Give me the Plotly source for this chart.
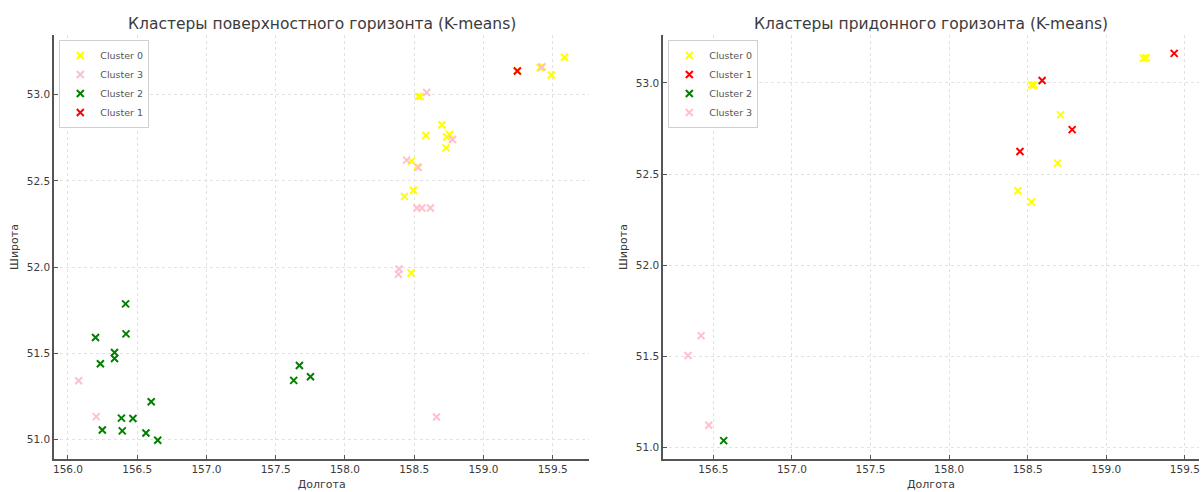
import plotly.graph_objects as go

# ---- Surface horizon (left panel) ----
surf_c0_lon = [158.530, 158.545, 158.700, 158.585, 158.755, 158.735, 158.730, 158.480,
               158.520, 158.495, 158.430, 159.410, 159.425, 159.490, 159.585, 158.477, 159.245]
surf_c0_lat = [52.990, 52.990, 52.826, 52.764, 52.770, 52.755, 52.692, 52.615,
               52.582, 52.446, 52.410, 53.157, 53.163, 53.115, 53.218, 51.966, 53.140]

surf_c3_lon = [158.590, 158.445, 158.530, 158.777, 159.420, 158.520, 158.555, 158.617,
               158.391, 158.386, 156.077, 156.204, 158.661]
surf_c3_lat = [53.013, 52.621, 52.579, 52.741, 53.160, 52.343, 52.343, 52.343,
               51.989, 51.958, 51.341, 51.133, 51.131]

surf_c2_lon = [156.416, 156.199, 156.419, 156.336, 156.336, 156.234, 157.671, 157.630,
               157.751, 156.601, 156.386, 156.469, 156.248, 156.392, 156.563, 156.648]
surf_c2_lat = [51.787, 51.592, 51.613, 51.505, 51.470, 51.440, 51.429, 51.343,
               51.364, 51.219, 51.124, 51.122, 51.055, 51.050, 51.038, 50.996]

surf_c1_lon = [159.245]
surf_c1_lat = [53.138]

# ---- Bottom horizon (right panel) ----
bot_c0_lon = [158.525, 158.540, 158.709, 158.690, 158.438, 158.524, 159.237, 159.254]
bot_c0_lat = [52.989, 52.989, 52.825, 52.560, 52.409, 52.347, 53.135, 53.138]

bot_c1_lon = [158.592, 158.783, 158.451, 159.432]
bot_c1_lat = [53.013, 52.744, 52.624, 53.162]

bot_c2_lon = [156.566]
bot_c2_lat = [51.038]

bot_c3_lon = [156.422, 156.339, 156.471]
bot_c3_lat = [51.614, 51.505, 51.122]

CLUSTER_COLORS = {"0": "yellow", "1": "red", "2": "green", "3": "pink"}
FONT = "DejaVu Sans"
TEXT = "#3b3b3b"

W, H = 1203, 492
ML, MR, MT, MB = 54.3, 3, 35, 29.7
plot_w = W - ML - MR

left_dom = [0, (590 - ML) / plot_w]
right_dom = [(663.7 - ML) / plot_w, 1]

fig = go.Figure()


def add_cluster(lon, lat, label, xa, ya, legend):
    fig.add_trace(go.Scatter(
        x=lon, y=lat, mode="markers", name=f"Cluster {label}",
        xaxis=xa, yaxis=ya, legend=legend,
        marker=dict(symbol="x-thin", size=7,
                    line=dict(width=2, color=CLUSTER_COLORS[label]),
                    color=CLUSTER_COLORS[label]),
    ))


# Left panel: order 0, 3, 2, 1
add_cluster(surf_c0_lon, surf_c0_lat, "0", "x", "y", "legend")
add_cluster(surf_c3_lon, surf_c3_lat, "3", "x", "y", "legend")
add_cluster(surf_c2_lon, surf_c2_lat, "2", "x", "y", "legend")
add_cluster(surf_c1_lon, surf_c1_lat, "1", "x", "y", "legend")

# Right panel: order 0, 1, 2, 3
add_cluster(bot_c0_lon, bot_c0_lat, "0", "x2", "y2", "legend2")
add_cluster(bot_c1_lon, bot_c1_lat, "1", "x2", "y2", "legend2")
add_cluster(bot_c2_lon, bot_c2_lat, "2", "x2", "y2", "legend2")
add_cluster(bot_c3_lon, bot_c3_lat, "3", "x2", "y2", "legend2")

axis_common = dict(
    showline=True, linecolor="#555555", linewidth=1.5, mirror=False,
    ticks="inside", ticklen=4, tickcolor="#555555", tickwidth=1,
    showgrid=True, gridcolor="#e2e2e2", griddash="dot", gridwidth=1,
    zeroline=False, dtick=0.5, tickformat=".1f",
    tickfont=dict(family=FONT, size=10.5, color=TEXT),
)

fig.update_layout(
    width=W, height=H,
    margin=dict(l=ML, r=MR, t=MT, b=MB),
    paper_bgcolor="white", plot_bgcolor="white",
    font=dict(family=FONT, color=TEXT),
    xaxis=dict(domain=left_dom, range=[155.899, 159.765], anchor="y",
               title=dict(text="Долгота", font=dict(size=11, color=TEXT), standoff=6),
               **axis_common),
    yaxis=dict(domain=[0, 1], range=[50.887, 53.347], anchor="x",
               title=dict(text="Широта", font=dict(size=11, color=TEXT), standoff=6),
               **axis_common),
    xaxis2=dict(domain=right_dom, range=[156.18, 159.59], anchor="y2",
                title=dict(text="Долгота", font=dict(size=11, color=TEXT), standoff=6),
                **axis_common),
    yaxis2=dict(domain=[0, 1], range=[50.937, 53.263], anchor="x2",
                title=dict(text="Широта", font=dict(size=11, color=TEXT), standoff=6),
                **axis_common),
    legend=dict(x=(59.6 - ML) / plot_w, y=1 - (40 - MT) / (H - MT - MB),
                xanchor="left", yanchor="top",
                bgcolor="white", bordercolor="#d0d0d0", borderwidth=1,
                font=dict(family=FONT, size=9.5, color="#555555"),
                tracegroupgap=0),
    legend2=dict(x=(669 - ML) / plot_w, y=1 - (40 - MT) / (H - MT - MB),
                 xanchor="left", yanchor="top",
                 bgcolor="white", bordercolor="#d0d0d0", borderwidth=1,
                 font=dict(family=FONT, size=9.5, color="#555555"),
                 tracegroupgap=0),
    showlegend=True,
)

# Panel titles
titles = [("Кластеры поверхностного горизонта (K-means)", left_dom),
          ("Кластеры придонного горизонта (K-means)", right_dom)]
for text, dom in titles:
    fig.add_annotation(
        text=text, xref="paper", yref="paper",
        x=(dom[0] + dom[1]) / 2, y=1, xanchor="center", yanchor="middle",
        yshift=11, showarrow=False,
        font=dict(family=FONT, size=15.5, color=TEXT),
    )

fig.write_html("out.html")
